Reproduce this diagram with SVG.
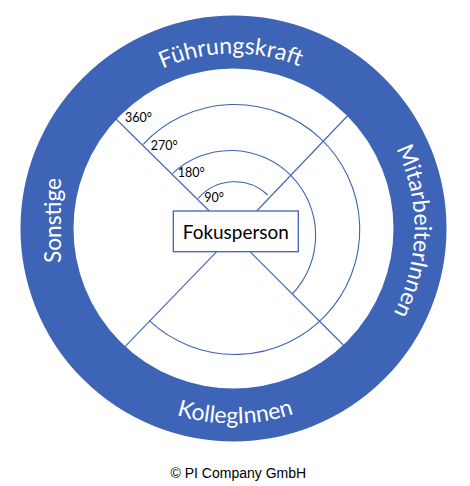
<svg xmlns="http://www.w3.org/2000/svg" width="470" height="486" viewBox="0 0 470 486">
<style>
.ring{fill:none;stroke:#3E64B7;stroke-width:53}
.ln{fill:none;stroke:#3E64B7;stroke-width:1.1}
.ringtxt{font-family:Lato,"Open Sans","DejaVu Sans",sans-serif;font-size:23px;fill:#ffffff}
.deg{font-family:Lato,"Open Sans","DejaVu Sans",sans-serif;font-size:12.5px;fill:#000000}
.box{fill:#ffffff;stroke:#3E64B7;stroke-width:1.3}
.boxtxt{font-family:Lato,"Open Sans","DejaVu Sans",sans-serif;font-size:20px;fill:#000000}
.copy{font-family:"Liberation Sans",Arial,sans-serif;font-size:14px;fill:#000000}
</style>
<defs>
<path id="pTop" d="M 58.5,228.5 A 175 175 0 0 1 408.5,228.5"/>
<path id="pRight" d="M 233.5,47.5 A 181 181 0 0 1 233.5,409.5"/>
<path id="pBottom" d="M 38.5,228.5 A 195 195 0 0 0 428.5,228.5"/>
</defs>
<rect x="0" y="0" width="470" height="486" fill="#ffffff"/>
<g id="ring">
<circle class="ring" cx="233.5" cy="228.5" r="186.5"/>
<text class="ringtxt" text-anchor="middle"><textPath href="#pTop" startOffset="49.5%">Führungskraft</textPath></text>
<text class="ringtxt" text-anchor="middle"><textPath href="#pRight" startOffset="50.5%">MitarbeiterInnen</textPath></text>
<text class="ringtxt" text-anchor="middle"><textPath href="#pBottom" startOffset="50.3%">KollegInnen</textPath></text>
<text class="ringtxt" text-anchor="middle" transform="translate(60.5,220.5) rotate(-90)" textLength="85" lengthAdjust="spacingAndGlyphs">Sonstige</text>
</g>
<g id="connectors">
<line class="ln" x1="116" y1="119" x2="209.3" y2="211"/>
<line class="ln" x1="256.7" y1="211" x2="348.3" y2="115"/>
<line class="ln" x1="216.7" y1="251.7" x2="125" y2="346.7"/>
<line class="ln" x1="250" y1="251.7" x2="343.3" y2="345"/>
<path class="ln" d="M 198.3,198.3 A 48 48 0 0 1 267.7,195"/>
<path class="ln" d="M 172.7,173.3 A 85 85 0 0 1 292.3,294"/>
<path class="ln" d="M 143.3,144.3 A 125 125 0 1 1 149.3,320.7"/>
</g>
<g id="labels">
<text class="deg" x="125" y="122.3">360°</text>
<text class="deg" x="150.7" y="150">270°</text>
<text class="deg" x="177.7" y="176.7">180°</text>
<text class="deg" x="204.3" y="202.3">90°</text>
</g>
<g id="fokusperson">
<rect class="box" x="173.3" y="211" width="125" height="40.7"/>
<text class="boxtxt" x="235.8" y="239" text-anchor="middle" textLength="106" lengthAdjust="spacingAndGlyphs">Fokusperson</text>
</g>
<text class="copy" x="238.3" y="477.5" text-anchor="middle">© PI Company GmbH</text>
</svg>
